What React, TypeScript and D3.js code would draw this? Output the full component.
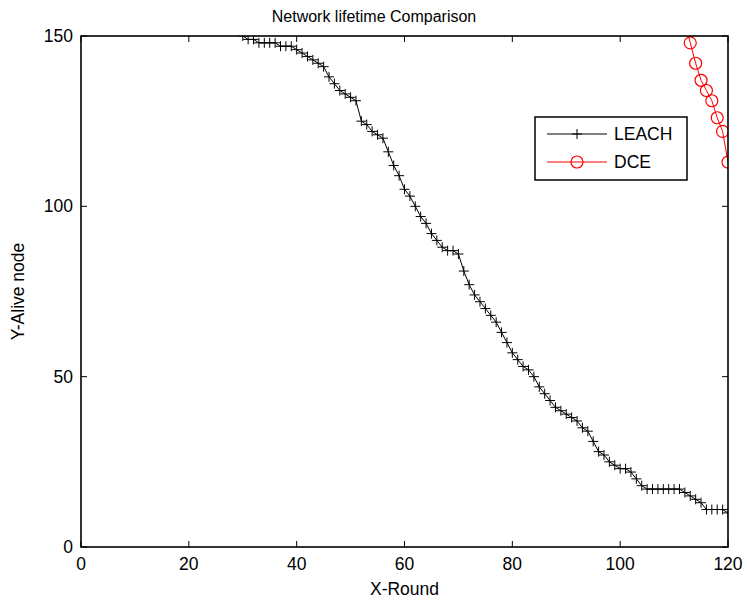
import React from "react";
import * as d3 from "d3";

const leachRounds: number[] = d3.range(30, 121);
const leachValues: number[] = [
  150, 149, 149, 148, 148, 148, 148, 147, 147, 147, // 30-39
  146, 145, 144, 143, 142, 141, 138, 136, 134, 133, // 40-49
  132, 131, 125, 124, 122, 121, 120, 116, 112, 109, // 50-59
  105, 103, 100, 97, 95, 92, 90, 88, 87, 87, // 60-69
  86, 81, 77, 74, 72, 70, 68, 66, 63, 60, // 70-79
  57, 55, 53, 52, 50, 47, 45, 43, 41, 40, // 80-89
  39, 38, 37, 35, 34, 31, 28, 27, 25, 24, // 90-99
  23, 23, 22, 20, 18, 17, 17, 17, 17, 17, // 100-109
  17, 17, 16, 15, 14, 13, 11, 11, 11, 11, // 110-119
  10, // 120
];
const dceRounds: number[] = [112, 113, 114, 115, 116, 117, 118, 119, 120];
const dceValues: number[] = [154, 148, 142, 137, 134, 131, 126, 122, 113];

const xTicks: number[] = [0, 20, 40, 60, 80, 100, 120];
const yTicks: number[] = [0, 50, 100, 150];
const seriesNames: string[] = ["LEACH", "DCE"];

const W = 747;
const H = 601;
const left = 81;
const right = 728;
const top = 36;
const bottom = 547;
const FONT = "Liberation Sans, Arial, sans-serif";

export default function App() {
  const x = d3.scaleLinear().domain([0, 120]).range([left, right]);
  const y = d3.scaleLinear().domain([0, 150]).range([bottom, top]);

  const leach = leachRounds.map((r, i) => [r, leachValues[i]] as [number, number]);
  const dce = dceRounds.map((r, i) => [r, dceValues[i]] as [number, number]);
  const line = d3
    .line<[number, number]>()
    .x((d) => x(d[0]))
    .y((d) => y(d[1]));

  const ps = 5;
  const tickLen = 6;

  return (
    <svg
      width={W}
      height={H}
      style={{ position: "absolute", left: 0, top: 0, background: "#fff" }}
      fontFamily={FONT}
    >
      <defs>
        <clipPath id="plotclip">
          <rect x={left} y={top} width={right - left} height={bottom - top} />
        </clipPath>
      </defs>
      <rect x={0} y={0} width={W} height={H} fill="#fff" />

      <g clipPath="url(#plotclip)">
        <path d={line(leach) || ""} fill="none" stroke="#000" strokeWidth={1} />
        {leach.map((d, i) => (
          <path
            key={"l" + i}
            d={`M${x(d[0]) - ps},${y(d[1])}H${x(d[0]) + ps}M${x(d[0])},${y(d[1]) - ps}V${y(d[1]) + ps}`}
            stroke="#000"
            strokeWidth={1}
            fill="none"
          />
        ))}
        <path d={line(dce) || ""} fill="none" stroke="#ff0000" strokeWidth={1} />
        {dce.map((d, i) => (
          <circle
            key={"d" + i}
            cx={x(d[0])}
            cy={y(d[1])}
            r={6}
            fill="none"
            stroke="#ff0000"
            strokeWidth={1.2}
          />
        ))}
      </g>

      {/* axes box */}
      <rect
        x={left}
        y={top}
        width={right - left}
        height={bottom - top}
        fill="none"
        stroke="#000"
        strokeWidth={1.6}
      />

      {xTicks.map((t) => (
        <g key={"xt" + t}>
          <line x1={x(t)} x2={x(t)} y1={bottom} y2={bottom - tickLen} stroke="#000" strokeWidth={1} />
          <line x1={x(t)} x2={x(t)} y1={top} y2={top + tickLen} stroke="#000" strokeWidth={1} />
          <text x={x(t)} y={bottom + 23} fontSize={17.5} textAnchor="middle" fill="#000">
            {t}
          </text>
        </g>
      ))}
      {yTicks.map((t) => (
        <g key={"yt" + t}>
          <line x1={left} x2={left + tickLen} y1={y(t)} y2={y(t)} stroke="#000" strokeWidth={1} />
          <line x1={right} x2={right - tickLen} y1={y(t)} y2={y(t)} stroke="#000" strokeWidth={1} />
          <text x={left - 8} y={y(t) + 6} fontSize={17.5} textAnchor="end" fill="#000">
            {t}
          </text>
        </g>
      ))}

      <text x={374} y={22} fontSize={16} textAnchor="middle" fill="#000">
        Network lifetime Comparison
      </text>
      <text x={(left + right) / 2} y={595} fontSize={17.5} textAnchor="middle" fill="#000">
        X-Round
      </text>
      <text
        transform={`translate(24,${(top + bottom) / 2}) rotate(-90)`}
        fontSize={17.5}
        textAnchor="middle"
        fill="#000"
      >
        Y-Alive node
      </text>

      {/* legend */}
      <g>
        <rect x={535} y={117} width={152} height={63} fill="#fff" stroke="#000" strokeWidth={1.5} />
        <line x1={547} x2={607} y1={134} y2={134} stroke="#000" strokeWidth={1} />
        <path d={`M${577 - ps},134H${577 + ps}M577,${134 - ps}V${134 + ps}`} stroke="#000" strokeWidth={1} />
        <text x={614} y={140} fontSize={17.5} fill="#000">
          {seriesNames[0]}
        </text>
        <line x1={547} x2={607} y1={162} y2={162} stroke="#ff0000" strokeWidth={1} />
        <circle cx={577} cy={162} r={6} fill="none" stroke="#ff0000" strokeWidth={1.2} />
        <text x={614} y={168} fontSize={17.5} fill="#000">
          {seriesNames[1]}
        </text>
      </g>
    </svg>
  );
}
